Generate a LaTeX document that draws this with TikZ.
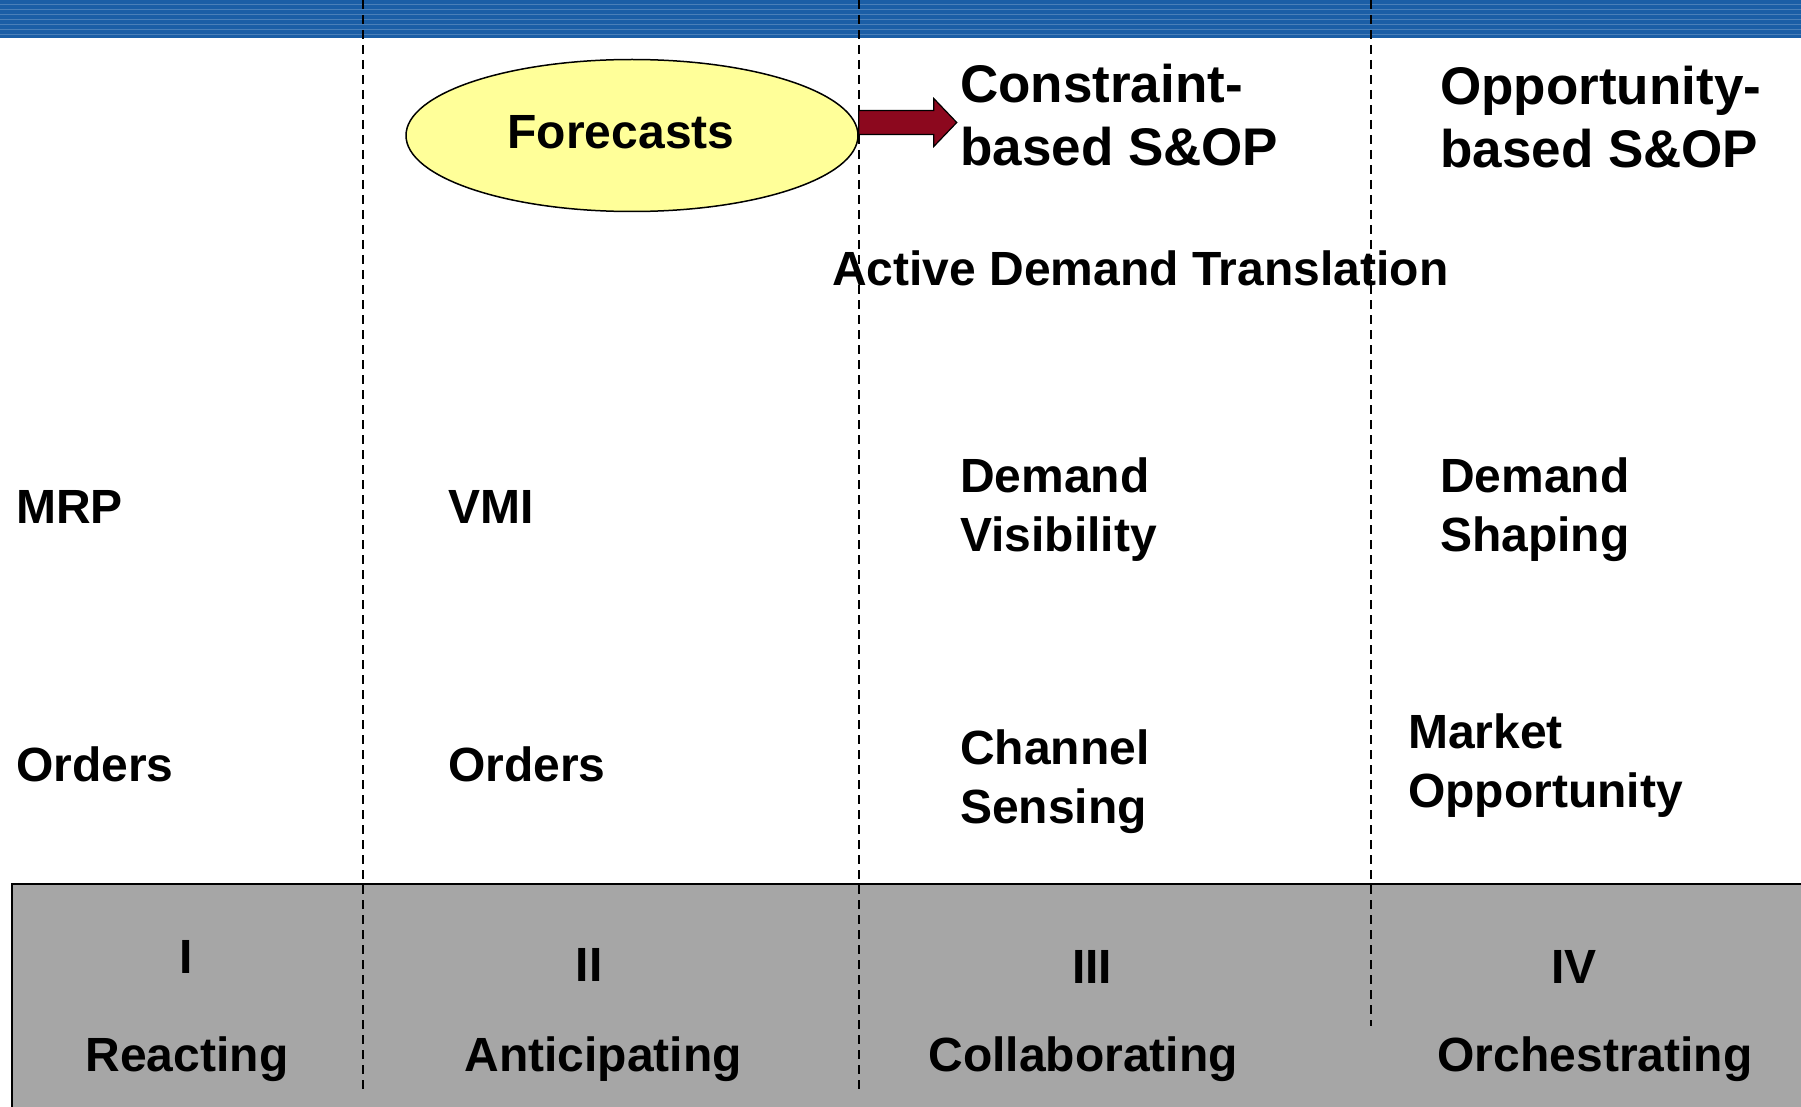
\documentclass[tikz,border=0pt]{standalone}
\usepackage{fontspec}
\setmainfont{Liberation Sans}
\usetikzlibrary{shapes.geometric}
\begin{document}
\begin{tikzpicture}[x=1pt,y=-1pt,
  txt/.style={font=\bfseries\fontsize{48}{59}\selectfont, inner sep=0pt, align=left, anchor=west},
  head/.style={font=\bfseries\fontsize{53}{63}\selectfont, inner sep=0pt, align=left, anchor=west},
  stage/.style={font=\bfseries\fontsize{48}{57}\selectfont, inner sep=0pt, anchor=center},
  divider/.style={line width=2pt, dash pattern=on 9pt off 6pt},
]
\useasboundingbox (0,0) rectangle (1801,1107);
\definecolor{bannerblue}{RGB}{27,94,166}
\definecolor{stagegray}{RGB}{166,166,166}
\definecolor{forecastyellow}{RGB}{255,255,153}
\definecolor{arrowred}{RGB}{140,8,30}

% title banner
\fill[bannerblue] (0,0) rectangle (1801,38);
\foreach \y in {4,9,...,36} \draw[white!60!bannerblue, opacity=0.35, line width=0.8pt] (0,\y) -- (1801,\y);

% stage band
\filldraw[fill=stagegray, draw=black, line width=2.5pt] (12,884) rectangle (1815,1120);

% column dividers
\draw[divider] (363,0) -- (363,1089);
\draw[divider] (859,0) -- (859,1089);
\draw[divider] (1371,0) -- (1371,1026);

% forecast ellipse and its block arrow
\node[draw=black, line width=1.5pt, fill=forecastyellow, ellipse, minimum width=452pt, minimum height=152pt, inner sep=0pt] (fc) at (632,135.5) {};
\node[font=\bfseries\fontsize{48}{57}\selectfont, inner sep=0pt] (fctext) at (621,132) {Forecasts};
\filldraw[fill=arrowred, draw=black, line width=1.2pt]
  (fc.east) ++(0,-25) -- ++(75,0) -- ++(0,-12) -- ++(23,24) -- ++(-23,24) -- ++(0,-12) -- ++(-75,0) -- cycle;

% headings
\node[head] (csop) at (960,115) {Constraint-\\based S\&OP};
\node[head] (osop) at (1440,117) {Opportunity-\\based S\&OP};
\node[txt] (adt) at (832,268) {Active Demand Translation};

% row items
\node[txt] (mrp) at (16,507) {MRP};
\node[txt] (vmi) at (448,507) {VMI};
\node[txt] (dvis) at (960,510) {Demand\\Visibility};
\node[txt] (dshp) at (1440,510) {Demand\\Shaping};

\node[txt] (ord1) at (16,764) {Orders};
\node[txt] (ord2) at (448,764) {Orders};
\node[txt] (chs) at (960,782) {Channel\\Sensing};
\node[txt] (mop) at (1408,766) {Market\\Opportunity};

% stages
\node[stage] (s1) at (186,957) {I};
\node[stage] (s2) at (589,965) {II};
\node[stage] (s3) at (1092,967) {III};
\node[stage] (s4) at (1574,967) {IV};
\node[stage] (r1) at (187,1059) {Reacting};
\node[stage] (r2) at (603,1059) {Anticipating};
\node[stage] (r3) at (1083,1059) {Collaborating};
\node[stage] (r4) at (1595,1059) {Orchestrating};
\end{tikzpicture}
\end{document}
